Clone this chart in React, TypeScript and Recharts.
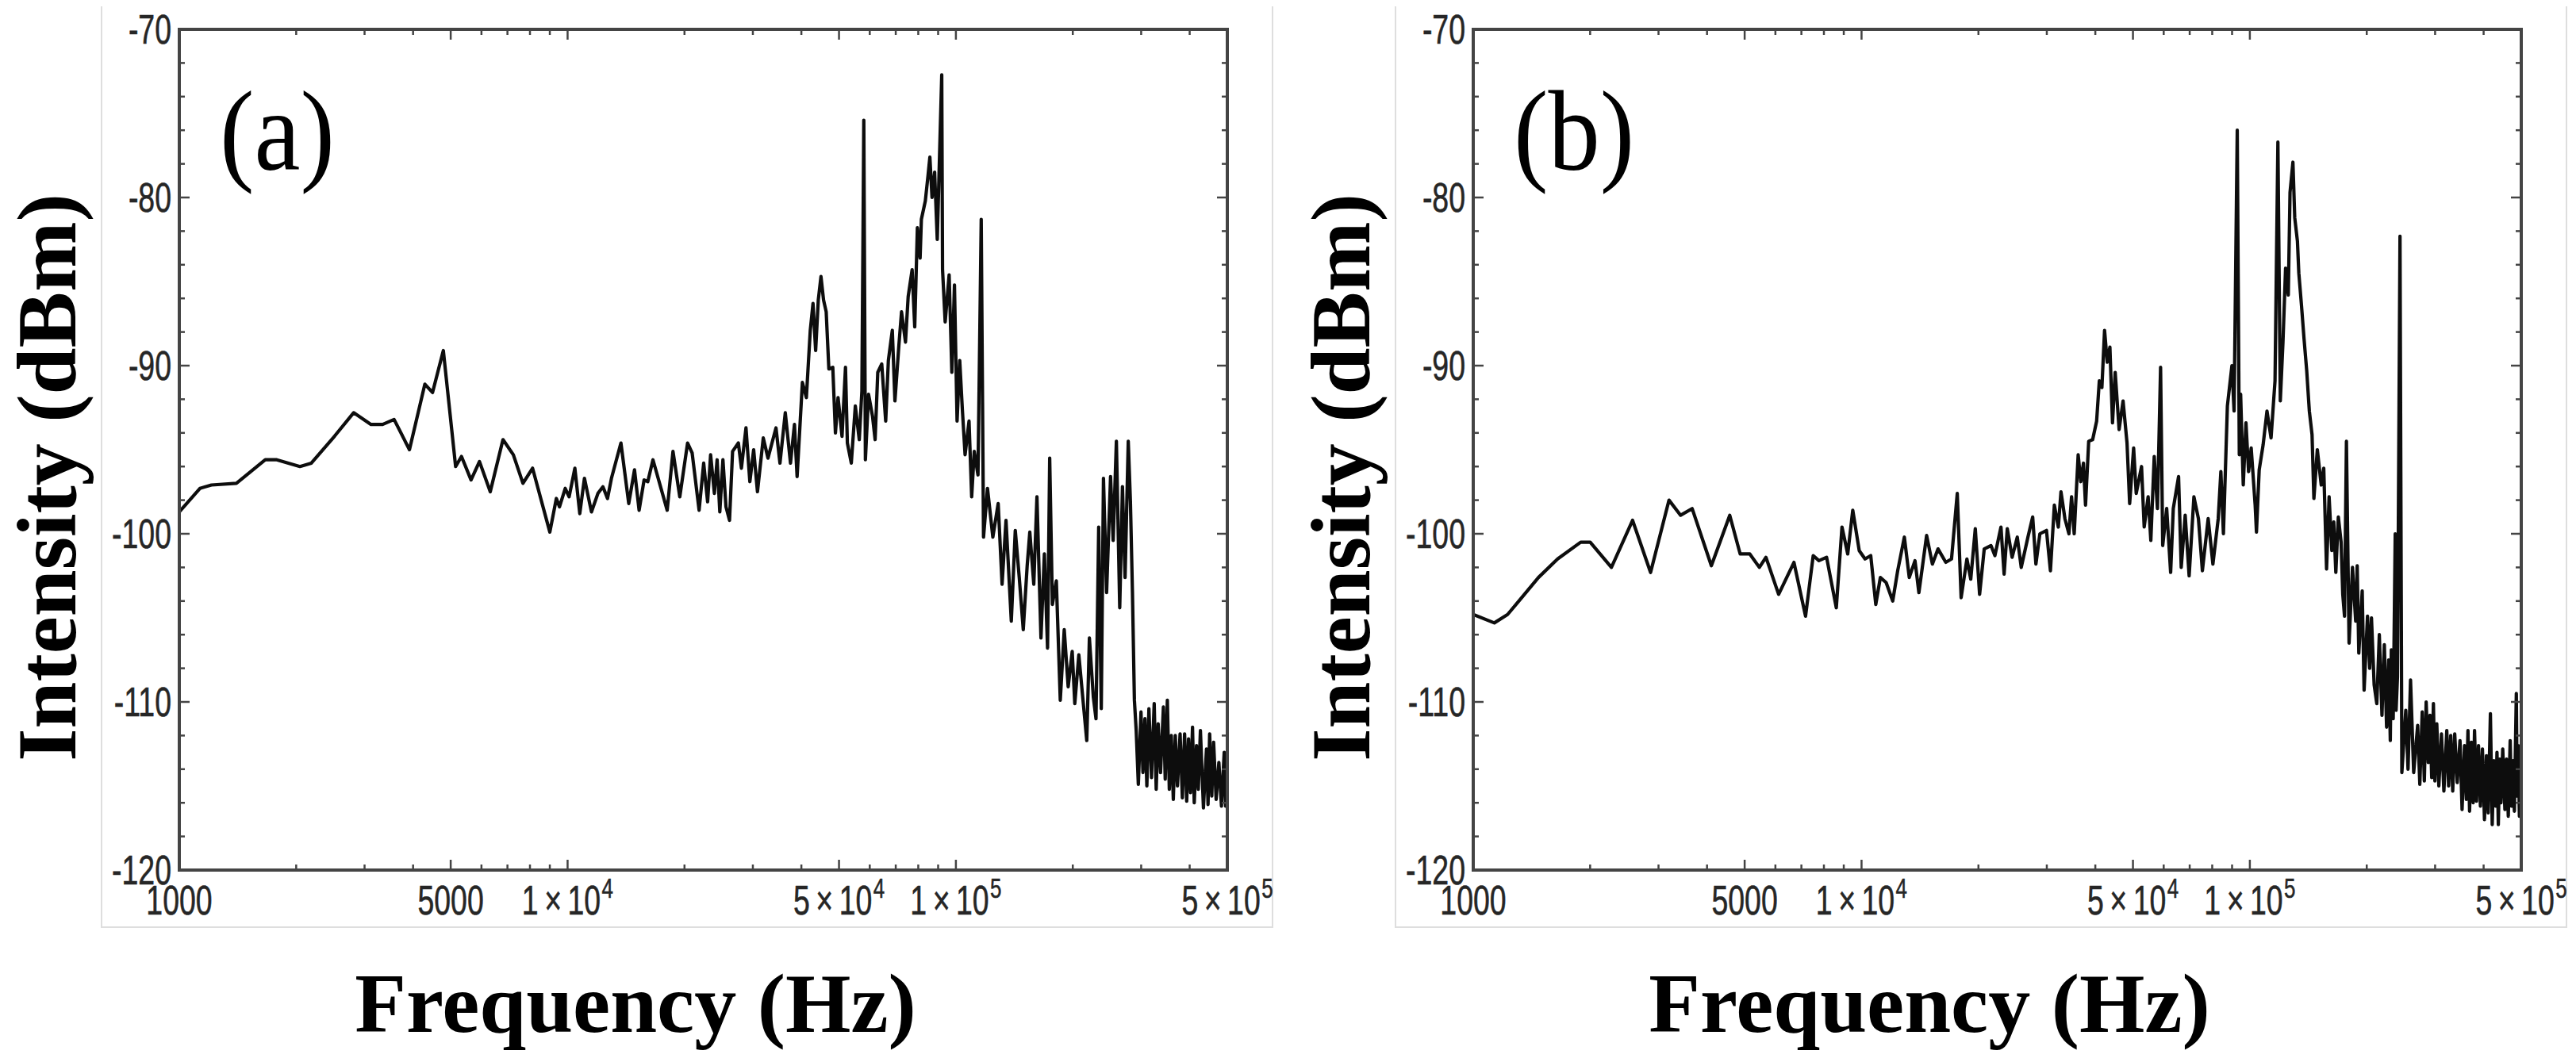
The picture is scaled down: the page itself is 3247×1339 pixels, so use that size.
import React from 'react'
import { LineChart, Line, XAxis, YAxis } from 'recharts'

// frame ticks (Mathematica style, drawn inside the frame)
const X_MAJOR = [1000, 5000, 10000, 50000, 100000, 500000]
const X_MINOR = [2000, 3000, 4000, 6000, 7000, 8000, 9000, 20000, 30000, 40000, 60000, 70000, 80000, 90000, 200000, 300000, 400000]
const X_TICKS = [...X_MAJOR, ...X_MINOR].sort((a, b) => a - b)
const X_LABELS: Record<number, [string, string]> = {
  1000: ['1000', ''],
  5000: ['5000', ''],
  10000: ['1\u2009×\u200910', '4'],
  50000: ['5\u2009×\u200910', '4'],
  100000: ['1\u2009×\u200910', '5'],
  500000: ['5\u2009×\u200910', '5'],
}
const Y_TICKS = [-120, -118, -116, -114, -112, -110, -108, -106, -104, -102, -100, -98, -96, -94, -92, -90, -88, -86, -84, -82, -80, -78, -76, -74, -72, -70]
const Y_LABELED = [-120, -110, -100, -90, -80, -70]

// panel (a): [frequency Hz, intensity dBm]
const traceALow: [number, number][] = [
  [1000, -98.7], [1130, -97.3], [1210, -97.1], [1403, -97.0], [1665, -95.6], [1783, -95.6], [2045, -96.0], [2188, -95.8],
  [2510, -94.2], [2812, -92.8], [3117, -93.5], [3339, -93.5], [3574, -93.2], [3915, -95.0], [4290, -91.1], [4489, -91.6],
  [4786, -89.1], [5148, -96.0], [5330, -95.4], [5641, -96.8], [5930, -95.7], [6322, -97.5], [6817, -94.4], [7249, -95.3],
  [7674, -97.0], [8124, -96.1], [9000, -99.9], [9355, -97.9], [9530, -98.4], [9860, -97.3], [10090, -97.8], [10440, -96.1],
  [10750, -98.8], [11050, -96.7], [11520, -98.7], [11970, -97.6], [12330, -97.2], [12670, -97.9], [12970, -96.7], [13720, -94.6],
  [14370, -98.2], [14870, -96.2], [15280, -98.6], [15740, -96.8], [16090, -96.9], [16590, -95.6], [18050, -98.6], [18680, -95.1],
  [19450, -97.8], [20370, -94.6], [20930, -95.2], [21810, -98.6], [22410, -95.8], [22940, -98.1], [23350, -95.3], [23880, -97.6],
  [24270, -95.6], [24660, -98.7], [25120, -95.6], [25580, -98.4], [26120, -99.2], [26600, -95.1], [27530, -94.6], [28030, -96.1],
  [28800, -93.7], [29470, -96.9], [30140, -95.0], [30830, -97.5], [31910, -94.3],
]
const traceAMid: [number, number][] = [
  [32810, -95.5], [34410, -93.7], [35230, -95.8], [36360, -92.8], [37500, -95.8], [38390, -93.5], [39000, -96.6], [40240, -91.0],
  [41200, -91.9], [42170, -87.9], [42860, -86.3], [43530, -89.1], [44220, -86.1], [44930, -84.7], [45620, -86.1], [46340, -86.8],
  [47080, -90.2], [48190, -90.1], [48950, -94.0], [49720, -91.9], [50900, -94.2], [51960, -90.1], [52540, -94.6], [53780, -95.8],
  [55080, -92.4], [56380, -94.4], [57270, -91.5], [57920, -75.4], [58470, -95.6], [59570, -91.7], [60980, -93.0], [61940, -94.4],
  [62920, -90.4], [64420, -89.9], [65950, -93.3], [67000, -89.7], [68590, -87.9], [69660, -92.1], [71310, -88.8], [72440, -86.8],
  [74160, -88.6], [75350, -85.9], [77140, -84.3], [78340, -87.7], [79580, -81.8], [80870, -83.6], [81490, -81.3], [83430, -80.2],
  [84760, -78.7], [85700, -77.6], [86800, -80.0], [88150, -78.5], [89540, -82.5], [91950, -72.7], [92390, -84.3], [93840, -87.4],
  [96070, -84.6], [97620, -90.4], [99150, -85.2], [100700, -93.3], [102300, -89.7], [103900, -92.6], [105600, -95.3], [108100, -93.3],
  [109800, -97.8], [111500, -95.1], [114000, -96.5], [116200, -81.3], [117800, -100.2], [120600, -97.3], [124500, -100.2], [128500, -98.2],
]
const traceAHigh: [number, number][] = [
  [131500, -103.0], [134600, -99.2], [138900, -105.2], [142200, -99.8], [145600, -102.6], [149100, -105.7], [152600, -101.9], [155000, -99.9],
  [158700, -103.0], [161700, -97.8], [165600, -106.2], [169000, -101.2], [172200, -106.8], [174400, -95.5], [177200, -104.2], [181400, -102.8],
  [185700, -109.9], [190100, -105.7], [194600, -109.1], [199300, -107.0], [202400, -110.1], [207300, -107.2], [212100, -109.7], [217300, -112.3],
  [220700, -106.2], [225900, -109.7], [229500, -111.0], [233200, -99.6], [236800, -110.4], [239900, -96.7], [244400, -103.5], [250200, -96.6],
  [254100, -100.4], [259000, -94.5], [264200, -104.4], [268500, -97.2], [272700, -102.6], [277900, -94.5], [281500, -98.1], [284900, -103.5],
  [288200, -109.9], [291300, -111.7], [295000, -114.9], [299700, -110.6], [303200, -114.2], [306800, -111.0], [310300, -115.0], [314100, -110.4],
  [319000, -114.5], [324100, -110.1], [328000, -115.2], [331800, -111.3], [336500, -114.2], [342300, -110.3], [346000, -114.6], [350400, -109.9],
  [354500, -115.2], [358700, -112.0], [363000, -115.8], [367300, -112.0], [372000, -115.0], [377900, -111.9], [383000, -115.7], [388100, -111.9],
  [393000, -115.9], [397300, -112.2], [402000, -115.4], [406800, -111.5], [411000, -116.0], [416500, -112.6], [421000, -115.2], [426300, -111.7],
  [434000, -116.3], [441900, -112.8], [446000, -116.1], [450300, -111.9], [456000, -115.6], [461000, -112.4], [468000, -115.8], [475600, -113.6],
  [483000, -116.2], [490900, -113.0], [495000, -116.2], [500000, -114.0],
]

// panel (b)
const traceBLow: [number, number][] = [
  [1000, -104.8], [1133, -105.3], [1226, -104.8], [1344, -103.7], [1472, -102.6], [1649, -101.5], [1891, -100.5], [2001, -100.5],
  [2269, -102.0], [2572, -99.2], [2862, -102.3], [3193, -98.0], [3420, -98.9], [3662, -98.5], [4104, -101.9], [4577, -98.9],
  [4869, -101.2], [5155, -101.2], [5456, -102.0], [5673, -101.4], [6116, -103.6], [6697, -101.7], [7174, -104.9], [7508, -101.3],
  [7766, -101.6], [8128, -101.4], [8609, -104.4], [8905, -99.6], [9213, -101.2], [9493, -98.6], [9863, -101.0], [10210, -101.5],
  [10560, -101.3], [10880, -104.2], [11180, -102.6], [11570, -102.9], [12030, -104.0], [12390, -102.2], [12890, -100.2], [13270, -102.6],
  [13730, -101.6], [14050, -103.5], [14710, -100.1], [15220, -101.8], [15740, -100.9], [16480, -101.7], [17050, -101.5], [17640, -97.6],
  [18050, -103.8], [18680, -101.5], [19110, -102.7], [19630, -99.7], [20140, -103.6], [20700, -100.9],
]
const traceBMid: [number, number][] = [
  [21540, -100.7], [22050, -101.3], [22860, -99.6], [23290, -102.4], [23730, -99.7], [24420, -101.4], [25180, -100.2], [25780, -102.0],
  [26820, -100.2], [27590, -99.0], [28120, -101.8], [28790, -100.0], [29940, -99.8], [30650, -102.2], [31370, -98.3], [32120, -99.6],
  [32630, -97.5], [33400, -99.1], [34200, -100.0], [34740, -97.8], [35290, -100.0], [36130, -95.3], [36690, -96.9], [37280, -95.8],
  [37740, -98.3], [38460, -94.5], [39370, -94.4], [40310, -93.3], [40960, -90.9], [41590, -91.3], [42250, -87.9], [42930, -89.8],
  [43610, -88.9], [44290, -93.4], [45000, -90.4], [46060, -93.8], [47150, -92.1], [48270, -94.6], [49030, -98.2], [50200, -94.9],
  [50980, -97.6], [52610, -96.0], [53440, -99.6], [54710, -97.8], [55590, -100.4], [56720, -95.4], [57810, -98.5], [58900, -90.1],
  [59650, -100.7], [61070, -98.5], [62520, -102.3], [63510, -98.5], [65530, -96.6], [66570, -102.0], [68150, -98.9], [69770, -102.5],
  [71770, -97.8], [73720, -99.1], [75470, -102.2], [78100, -99.1], [80330, -101.8], [82900, -99.1], [84210, -96.3], [85500, -100.0],
  [87530, -92.4], [89920, -90.0], [91070, -92.7], [92800, -76.0], [93940, -95.3], [94680, -91.7], [96170, -97.1], [97730, -93.4],
  [99250, -96.3],
]
const traceBHigh: [number, number][] = [
  [100800, -94.9], [103200, -98.3], [104000, -99.9], [105700, -96.2], [108200, -94.7], [110700, -92.7], [113400, -94.3], [116100, -90.9],
  [118100, -76.7], [119800, -92.1], [121700, -88.6], [123600, -84.2], [125600, -85.8], [126900, -79.7], [129100, -77.9], [130500, -81.2],
  [132600, -82.6], [133700, -84.5], [135800, -86.4], [137900, -88.4], [140100, -90.3], [142300, -92.7], [144600, -94.1], [146200, -97.9],
  [149200, -95.0], [152700, -97.1], [155000, -96.1], [157600, -102.1], [160000, -97.8], [162600, -101.0], [164500, -99.3], [166500, -102.3],
  [169000, -99.0], [171800, -100.5], [173500, -103.6], [175300, -104.9], [177300, -94.5], [180100, -106.5], [183800, -102.0], [187300, -105.2],
  [189000, -101.9], [190800, -107.1], [194700, -103.4], [196900, -109.3], [200900, -104.9], [203500, -108.0], [205700, -105.0], [209000, -109.0],
  [212300, -110.1], [215500, -106.0], [218900, -110.8], [222000, -106.6], [225000, -111.5], [227800, -107.5], [230000, -112.3], [231400, -106.9],
  [234000, -111.0], [236800, -100.0], [238000, -110.5], [240000, -108.5], [243600, -82.3], [246300, -114.2], [252100, -110.5], [255500, -114.0],
  [259300, -108.7], [264200, -114.2], [270500, -111.4], [274000, -114.9], [277900, -110.6], [281400, -114.7], [284500, -110.0], [288100, -113.6],
  [291000, -110.8], [294000, -114.5], [297000, -110.1], [299600, -114.7], [303000, -111.3], [306700, -115.0], [311500, -111.9], [316000, -115.3],
  [321500, -111.7], [325000, -115.0], [329100, -112.0], [333000, -115.3], [337000, -111.9], [342000, -114.8], [347700, -112.3], [352000, -116.4],
  [357100, -112.6], [361000, -115.8], [364500, -111.7], [368000, -116.5], [372000, -112.4], [376000, -116.0], [379000, -111.7], [383500, -115.9],
  [388000, -112.6], [392500, -116.2], [397200, -112.8], [402000, -117.0], [406700, -113.2], [411000, -116.6], [416400, -110.7], [420900, -117.3],
  [425000, -113.5], [429700, -116.2], [433000, -113.0], [436400, -117.3], [440000, -113.4], [443300, -116.0], [448000, -112.8], [453800, -116.4],
  [458000, -113.4], [463000, -116.8], [468200, -112.3], [472000, -116.2], [475700, -113.5], [480000, -116.5], [485600, -109.5], [488000, -115.6],
  [491000, -112.6], [494500, -116.8], [497000, -113.6], [500000, -115.5],
]

const rowsA = [...traceALow, ...traceAMid, ...traceAHigh].map(([f, v]) => ({ f, v }))
const rowsB = [...traceBLow, ...traceBMid, ...traceBHigh].map(([f, v]) => ({ f, v }))

const PANEL_W = 1624
const PANEL_H = 1339
const PLOT = { left: 226, right: 1547, top: 37, bottom: 1097 }
const PAD = 10
const FRAME = '#444'
const TICK_FONT = "'Liberation Sans', Arial, sans-serif"
const TITLE_FONT = "'Liberation Serif', 'Times New Roman', serif"
const LABEL_INK = '#262626'

function XTick(props: any) {
  const { x, y, payload, side } = props
  const value = payload.value
  const len = X_MAJOR.includes(value) ? 13 : 7
  if (side === 'top') {
    return <line x1={x} x2={x} y1={y} y2={y + len} stroke={FRAME} strokeWidth={2.5} />
  }
  const lab = X_LABELS[value]
  return (
    <g>
      <line x1={x} x2={x} y1={y} y2={y - len} stroke={FRAME} strokeWidth={2.5} />
      {lab && (
        <text
          transform={`translate(${x},${y + 56}) scale(0.72,1)`}
          textAnchor="middle"
          fontFamily={TICK_FONT}
          fontSize={52}
          fill={LABEL_INK}
          stroke={LABEL_INK}
          strokeWidth={0.6}
        >
          {lab[0]}
          {lab[1] && (
            <tspan fontSize={36} dx={2} dy={-21}>
              {lab[1]}
            </tspan>
          )}
        </text>
      )}
    </g>
  )
}

function YTick(props: any) {
  const { x, y, payload, side } = props
  const value = payload.value
  const major = Y_LABELED.includes(value)
  const len = major ? 13 : 7
  const dir = side === 'left' ? 1 : -1
  return (
    <g>
      <line x1={x} x2={x + dir * len} y1={y} y2={y} stroke={FRAME} strokeWidth={2.5} />
      {side === 'left' && major && (
        <text
          transform={`translate(${x - 10},${y + 18}) scale(0.72,1)`}
          textAnchor="end"
          fontFamily={TICK_FONT}
          fontSize={52}
          fill={LABEL_INK}
          stroke={LABEL_INK}
          strokeWidth={0.6}
        >
          {value}
        </text>
      )}
    </g>
  )
}

const axisLine = { stroke: FRAME, strokeWidth: 4, strokeLinecap: 'square' as const }

function Panel({ rows, tag, left }: { rows: { f: number; v: number }[]; tag: string; left: number }) {
  return (
    <div style={{ position: 'absolute', left, top: 0, width: PANEL_W, height: PANEL_H }}>
      {/* faint border of the pasted figure */}
      <div
        style={{
          position: 'absolute',
          left: 127,
          top: 8,
          width: 1478,
          height: 1162,
          borderLeft: '2px solid #dedede',
          borderRight: '2px solid #dedede',
          borderBottom: '2px solid #dedede',
          boxSizing: 'border-box',
        }}
      />
      <div style={{ position: 'absolute', left: 0, top: 0 }}>
        <LineChart
          width={PANEL_W}
          height={PANEL_H}
          data={rows}
          margin={{
            top: PLOT.top - PAD,
            right: PANEL_W - PLOT.right - PAD,
            bottom: PANEL_H - PLOT.bottom - PAD,
            left: PLOT.left - PAD,
          }}
        >
          <XAxis
            xAxisId="bottom"
            dataKey="f"
            type="number"
            scale="log"
            domain={[1000, 500000]}
            allowDataOverflow
            ticks={X_TICKS}
            interval={0}
            height={PAD}
            tickSize={0}
            tickMargin={0}
            tickLine={false}
            axisLine={axisLine}
            tick={(p: any) => <XTick {...p} side="bottom" />}
          />
          <XAxis
            xAxisId="top"
            orientation="top"
            dataKey="f"
            type="number"
            scale="log"
            domain={[1000, 500000]}
            allowDataOverflow
            ticks={X_TICKS}
            interval={0}
            height={PAD}
            tickSize={0}
            tickMargin={0}
            tickLine={false}
            axisLine={axisLine}
            tick={(p: any) => <XTick {...p} side="top" />}
          />
          <YAxis
            yAxisId="left"
            type="number"
            domain={[-120, -70]}
            allowDataOverflow
            ticks={Y_TICKS}
            interval={0}
            width={PAD}
            tickSize={0}
            tickMargin={0}
            tickLine={false}
            axisLine={axisLine}
            tick={(p: any) => <YTick {...p} side="left" />}
          />
          <YAxis
            yAxisId="right"
            orientation="right"
            type="number"
            domain={[-120, -70]}
            allowDataOverflow
            ticks={Y_TICKS}
            interval={0}
            width={PAD}
            tickSize={0}
            tickMargin={0}
            tickLine={false}
            axisLine={axisLine}
            tick={(p: any) => <YTick {...p} side="right" />}
          />
          <Line
            xAxisId="bottom"
            yAxisId="left"
            type="linear"
            dataKey="v"
            stroke="#0d0d0d"
            strokeWidth={4.2}
            strokeLinejoin="round"
            dot={false}
            isAnimationActive={false}
          />
        </LineChart>
      </div>
      <div
        style={{
          position: 'absolute',
          left: 277,
          top: 93,
          fontFamily: TITLE_FONT,
          fontSize: 145,
          lineHeight: '145px',
          transform: 'scaleX(0.9)',
          transformOrigin: 'left center',
          color: '#000',
          whiteSpace: 'nowrap',
        }}
      >
        {tag}
      </div>
      <div
        style={{
          position: 'absolute',
          left: 301,
          top: 1213,
          width: 1000,
          textAlign: 'center',
          fontFamily: TITLE_FONT,
          fontWeight: 'bold',
          fontSize: 106,
          lineHeight: '106px',
          color: '#000',
          whiteSpace: 'nowrap',
        }}
      >
        Frequency (Hz)
      </div>
      <div
        style={{
          position: 'absolute',
          left: 60 - 500,
          top: 602 - 53,
          width: 1000,
          textAlign: 'center',
          fontFamily: TITLE_FONT,
          fontWeight: 'bold',
          fontSize: 106,
          lineHeight: '106px',
          color: '#000',
          whiteSpace: 'nowrap',
          transform: 'rotate(-90deg)',
          transformOrigin: '500px 53px',
        }}
      >
        Intensity (dBm)
      </div>
    </div>
  )
}

export default function App() {
  return (
    <div style={{ position: 'absolute', left: 0, top: 0, width: 3247, height: 1339, background: '#fff', overflow: 'hidden' }}>
      <Panel rows={rowsA} tag="(a)" left={0} />
      <Panel rows={rowsB} tag="(b)" left={1631} />
    </div>
  )
}
